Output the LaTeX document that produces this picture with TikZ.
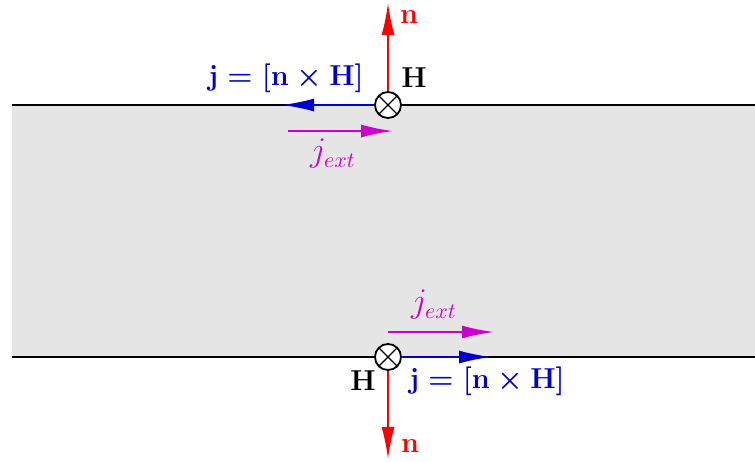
\documentclass[tikz,border=0pt]{standalone}
\usetikzlibrary{arrows.meta}
\definecolor{jblue}{RGB}{0,0,200}
\definecolor{jmag}{RGB}{204,0,204}
\begin{document}
\begin{tikzpicture}[x=0.5pt,y=-0.5pt,
  tip/.style={-{Latex[length=16pt,width=6.5pt]}},
  lab/.style={font=\Large\boldmath, inner sep=0pt},
  elab/.style={font=\fontsize{16}{19}\selectfont, inner sep=0pt, text=jmag},
  cross/.style={circle, draw, line width=0.9pt, fill=white, minimum size=13pt, inner sep=0pt}]
\useasboundingbox (0,0) rectangle (755,461);
\fill[gray!20] (12,105) rectangle (755,357);
\coordinate (tl) at (12,105); \coordinate (tr) at (755,105);
\coordinate (bl) at (12,357); \coordinate (br) at (755,357);
\draw[line width=0.7pt] (tl) -- (tr);
\draw[line width=0.7pt] (bl) -- (br);
% top
\node[cross] (ct) at (388,105) {};
\draw[line width=0.6pt] (ct.north west) -- (ct.south east) (ct.north east) -- (ct.south west);
\coordinate (nt) at (388,3);
\draw[red, line width=1pt, tip] (ct.north) -- (nt);
\coordinate (jt) at (282,105);
\draw[jblue, line width=0.9pt, tip] (ct.west) -- (jt);
\coordinate (et1) at (288,131); \coordinate (et2) at (393,131);
\draw[jmag, line width=1pt, tip] (et1) -- (et2);
\node[lab, red] (lnt) at (409,17) {$\mathbf{n}$};
\node[lab] (lht) at (414,78) {$\mathbf{H}$};
\node[lab, jblue] (ljt) at (286,78) {$\mathbf{j}=[\mathbf{n}\times\mathbf{H}]$};
\node[elab] (let) at (333,154) {$j_{ext}$};
% bottom
\node[cross] (cb) at (388,357) {};
\draw[line width=0.6pt] (cb.north west) -- (cb.south east) (cb.north east) -- (cb.south west);
\coordinate (nb) at (388,459);
\draw[red, line width=1pt, tip] (cb.south) -- (nb);
\coordinate (jb) at (491,357);
\draw[jblue, line width=0.9pt, tip] (cb.east) -- (jb);
\coordinate (eb1) at (388,332); \coordinate (eb2) at (494,332);
\draw[jmag, line width=1pt, tip] (eb1) -- (eb2);
\node[lab, red] (lnb) at (410,446) {$\mathbf{n}$};
\node[lab] (lhb) at (363,381) {$\mathbf{H}$};
\node[lab, jblue] (ljb) at (487,381) {$\mathbf{j}=[\mathbf{n}\times\mathbf{H}]$};
\node[elab] (leb) at (434,305) {$j_{ext}$};
\end{tikzpicture}
\end{document}
